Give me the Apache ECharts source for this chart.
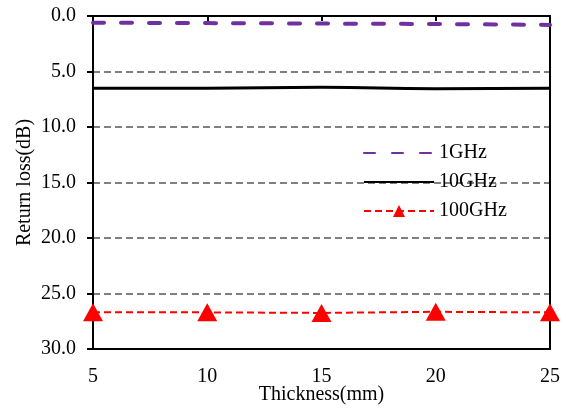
<!DOCTYPE html>
<html><head><meta charset="utf-8">
<script src="https://cdn.jsdelivr.net/npm/echarts@6/dist/echarts.min.js"></script>
<style>html,body{margin:0;padding:0;background:#fff}#c{width:566px;height:409px}</style>
</head><body><div id="c"></div>
<script>
const thickness = [5, 10, 15, 20, 25];
const ghz1 = [0.6, 0.64, 0.68, 0.72, 0.8];
const ghz10 = [6.5, 6.5, 6.42, 6.55, 6.5];
const ghz100 = [26.7, 26.7, 26.75, 26.65, 26.7];
const seriesNames = ['1GHz', '10GHz', '100GHz'];
const xTitle = 'Thickness(mm)';
const yTitle = 'Return loss(dB)';

const font = 'Liberation Serif';
const pair = (xs, ys) => xs.map((x, i) => [x, ys[i]]);
const clear = 'rgba(0,0,0,0)';
const chart = echarts.init(document.getElementById('c'));
chart.setOption({
  animation: false,
  textStyle: { fontFamily: font },
  grid: { left: 93, right: 16, top: 16, bottom: 60, outerBoundsMode: 'none',
    show: true, borderColor: '#000', borderWidth: 2, backgroundColor: clear },
  legend: {
    orient: 'vertical', left: 358, top: 138,
    itemWidth: 70, itemHeight: 15, itemGap: 9,
    textStyle: { fontFamily: font, fontSize: 20, color: '#000' },
    data: seriesNames
  },
  xAxis: [{
    type: 'value', min: 5, max: 25, interval: 5, position: 'bottom',
    axisLine: { show: true, onZero: false, lineStyle: { color: '#000', width: 2 } },
    axisTick: { show: false },
    axisLabel: { color: '#000', fontSize: 20, fontFamily: font, margin: 18 },
    splitLine: { show: false },
    name: xTitle, nameLocation: 'middle', nameGap: 36, nameMoveOverlap: false,
    nameTextStyle: { color: '#000', fontSize: 20, fontFamily: font }
  }, {
    type: 'value', min: 5, max: 25, interval: 5, position: 'top',
    axisLine: { show: true, onZero: false, lineStyle: { color: '#000', width: 2 } },
    axisTick: { show: true, inside: true, length: 5, lineStyle: { color: '#000', width: 2 } },
    axisLabel: { show: false }, splitLine: { show: false }
  }],
  yAxis: [{
    type: 'value', min: 0, max: 30, interval: 5, inverse: true, position: 'left',
    axisLine: { show: true, onZero: false, lineStyle: { color: '#000', width: 2 } },
    axisTick: { show: true, length: 6, lineStyle: { color: '#000', width: 2 } },
    axisLabel: { color: '#000', fontSize: 20, fontFamily: font, margin: 17,
      formatter: v => v.toFixed(1) },
    splitLine: { show: true, showMinLine: false, showMaxLine: false,
      lineStyle: { color: '#808080', width: 2, type: [7, 4] } },
    name: yTitle, nameLocation: 'middle', nameGap: 58, nameRotate: 90, nameMoveOverlap: false,
    nameTextStyle: { color: '#000', fontSize: 20, fontFamily: font }
  }, {
    type: 'value', min: 0, max: 30, interval: 5, inverse: true, position: 'right',
    axisLine: { show: true, onZero: false, lineStyle: { color: '#000', width: 2 } },
    axisTick: { show: false }, axisLabel: { show: false }, splitLine: { show: false }
  }],
  series: [{
    name: seriesNames[0], type: 'line', data: pair(thickness, ghz1),
    symbol: 'none', clip: false, z: 3,
    lineStyle: { color: '#7030A0', width: 4, type: [11, 17], cap: 'round' },
    itemStyle: { color: clear }
  }, {
    name: seriesNames[1], type: 'line', data: pair(thickness, ghz10),
    symbol: 'none', smooth: true, clip: false, z: 3,
    lineStyle: { color: '#000', width: 3 }, itemStyle: { color: clear }
  }, {
    name: seriesNames[2], type: 'line', data: pair(thickness, ghz100),
    symbol: 'triangle', symbolSize: [20, 18], clip: false, z: 3,
    lineStyle: { color: '#FF0000', width: 2, type: [7, 4] },
    itemStyle: { color: '#FF0000' }
  }]
});
</script></body></html>
